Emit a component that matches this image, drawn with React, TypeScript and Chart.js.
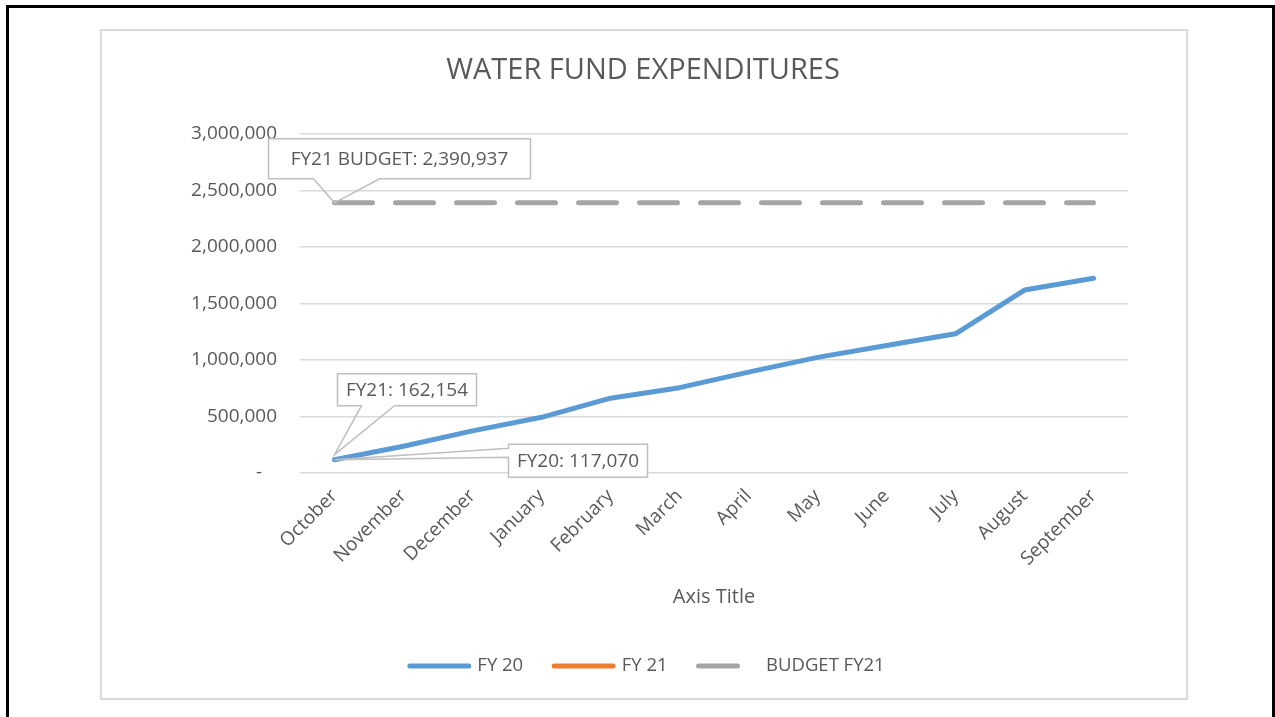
import { useEffect, useRef } from "react";
import { Chart, registerables } from "chart.js";

Chart.register(...registerables);

// ---------- data ----------
const months = [
  "October", "November", "December", "January", "February", "March",
  "April", "May", "June", "July", "August", "September",
];
const fy20Values = [
  117070, 237000, 373000, 493000, 662000, 755000,
  893000, 1023000, 1128000, 1232000, 1619000, 1723000,
];
const fy21Values = [
  162154, null, null, null, null, null,
  null, null, null, null, null, null,
];
const budgetFy21Values = [
  2390937, 2390937, 2390937, 2390937, 2390937, 2390937,
  2390937, 2390937, 2390937, 2390937, 2390937, 2390937,
];
const seriesNames = ["FY 20", "FY 21", "BUDGET FY21"];
const yMin = 0;
const yMax = 3000000;
const yStep = 500000;
const chartTitle = "WATER FUND EXPENDITURES";
const xAxisTitle = "Axis Title";

// ---------- styling ----------
const FONT = "'Open Sans', sans-serif";
const TEXT = "#595959";
const GRID = "#D9D9D9";
const BLUE = "#5B9BD5";
const ORANGE = "#ED7D31";
const GRAY = "#A5A5A5";

const CANVAS_W = 1084;
const CANVAS_H = 667;

// callout label layout (offsets from the data point)
const callouts = [
  { ds: 2, idx: 0, prefix: "FY21 BUDGET: ", cx: 65, cy: -44, w: 262, h: 40, side: "bottom", b1: 45, b2: 111 },
  { ds: 1, idx: 0, prefix: "FY21: ", cx: 72.5, cy: -65, w: 139, h: 32, side: "bottom", b1: 24, b2: 57 },
  { ds: 0, idx: 0, prefix: "FY20: ", cx: 243.5, cy: 1, w: 139, h: 33, side: "left", b1: 4, b2: 13 },
];

const fmt = (v: number) => Math.round(v).toLocaleString("en-US");

const decorPlugin = {
  id: "decor",
  afterDatasetsDraw(chart: any) {
    const ctx: CanvasRenderingContext2D = chart.ctx;
    ctx.save();
    for (const c of callouts) {
      const meta = chart.getDatasetMeta(c.ds);
      const el = meta.data[c.idx];
      const value = chart.data.datasets[c.ds].data[c.idx] as number;
      const ax = el.x;
      const ay = el.y;
      const left = ax + c.cx - c.w / 2;
      const top = ay + c.cy - c.h / 2;
      const right = left + c.w;
      const bottom = top + c.h;
      ctx.fillStyle = "#ffffff";
      ctx.fillRect(left, top, c.w, c.h);
      ctx.beginPath();
      if (c.side === "bottom") {
        ctx.moveTo(left + c.b1, bottom);
        ctx.lineTo(left, bottom);
        ctx.lineTo(left, top);
        ctx.lineTo(right, top);
        ctx.lineTo(right, bottom);
        ctx.lineTo(left + c.b2, bottom);
        ctx.lineTo(ax, ay);
        ctx.closePath();
      } else {
        ctx.moveTo(left, top + c.b1);
        ctx.lineTo(left, top);
        ctx.lineTo(right, top);
        ctx.lineTo(right, bottom);
        ctx.lineTo(left, bottom);
        ctx.lineTo(left, top + c.b2);
        ctx.lineTo(ax, ay);
        ctx.closePath();
      }
      ctx.strokeStyle = "#BFBFBF";
      ctx.lineWidth = 1.5;
      ctx.lineJoin = "miter";
      ctx.stroke();
      ctx.fillStyle = TEXT;
      ctx.font = `19px ${FONT}`;
      ctx.textAlign = "center";
      ctx.textBaseline = "middle";
      ctx.fillText(c.prefix + fmt(value), (left + right) / 2, (top + bottom) / 2 + 1);
    }
    ctx.restore();
  },
  afterDraw(chart: any) {
    const ctx: CanvasRenderingContext2D = chart.ctx;
    const area = chart.chartArea;
    ctx.save();
    // title
    ctx.fillStyle = TEXT;
    ctx.font = `29px ${FONT}`;
    ctx.textAlign = "center";
    ctx.textBaseline = "middle";
    ctx.fillText(chartTitle, chart.width / 2 - 1, 40);
    // axis title
    ctx.font = `20px ${FONT}`;
    ctx.fillText(xAxisTitle, (area.left + area.right) / 2, 566);
    // legend
    ctx.font = `18.5px ${FONT}`;
    const sample = 64;
    const gap = 6;
    const spacing = 28.5;
    const items = chart.data.datasets.map((d: any) => ({
      label: d.label,
      color: d.borderColor,
      dash: d.borderDash || [],
      w: ctx.measureText(d.label).width,
    }));
    let total = 0;
    items.forEach((it: any, i: number) => {
      total += sample + gap + it.w + (i < items.length - 1 ? spacing : 0);
    });
    let x = chart.width / 2 - total / 2 + 2;
    const ly = 635;
    items.forEach((it: any) => {
      ctx.beginPath();
      ctx.strokeStyle = it.color;
      ctx.lineWidth = 5;
      ctx.lineCap = "round";
      ctx.moveTo(x + 2.5, ly);
      ctx.lineTo(x + (it.dash.length ? 41.5 : sample - 2.5), ly);
      ctx.stroke();
      ctx.fillStyle = TEXT;
      ctx.textAlign = "left";
      ctx.textBaseline = "middle";
      const tx = x + sample + gap;
      ctx.fillText(it.label, tx, ly);
      x = tx + it.w + spacing;
    });
    ctx.restore();
  },
};

export default function App() {
  const ref = useRef<HTMLCanvasElement | null>(null);

  useEffect(() => {
    if (!ref.current) return;
    const chart = new Chart(ref.current, {
      type: "line",
      data: {
        labels: months,
        datasets: [
          {
            label: seriesNames[0],
            data: fy20Values,
            borderColor: BLUE,
            backgroundColor: BLUE,
            borderWidth: 5,
            pointRadius: 0,
            pointHoverRadius: 0,
            tension: 0,
            borderCapStyle: "round",
            borderJoinStyle: "round",
          },
          {
            label: seriesNames[1],
            data: fy21Values,
            borderColor: ORANGE,
            backgroundColor: ORANGE,
            borderWidth: 5,
            pointRadius: 0,
            pointHoverRadius: 0,
            tension: 0,
            borderCapStyle: "butt",
          },
          {
            label: seriesNames[2],
            data: budgetFy21Values,
            borderColor: GRAY,
            backgroundColor: GRAY,
            borderWidth: 5,
            borderDash: [38, 23],
            borderCapStyle: "round",
            pointRadius: 0,
            pointHoverRadius: 0,
            tension: 0,
          },
        ],
      } as any,
      options: {
        responsive: false,
        animation: false,
        events: [],
        layout: { padding: { left: 8, right: 58, top: 103, bottom: 105 } },
        plugins: {
          legend: { display: false },
          title: { display: false },
          tooltip: { enabled: false },
        },
        scales: {
          x: {
            type: "category",
            offset: true,
            grid: { display: false, drawTicks: false },
            border: { display: false },
            ticks: {
              autoSkip: false,
              maxRotation: 45,
              minRotation: 45,
              padding: 12,
              color: TEXT,
              font: { family: FONT, size: 19 },
            },
            afterFit: (scale: any) => {
              scale.height = 120;
            },
          },
          y: {
            min: yMin,
            max: yMax,
            grid: { color: GRID, lineWidth: 1.5, drawTicks: false },
            border: { display: false },
            ticks: {
              stepSize: yStep,
              padding: 23,
              color: TEXT,
              font: { family: FONT, size: 19 },
              callback: (v: any) => (Number(v) === 0 ? "-   " : fmt(Number(v))),
            },
            afterFit: (scale: any) => {
              scale.width = 190;
            },
          },
        },
      } as any,
      plugins: [decorPlugin],
    });
    return () => chart.destroy();
  }, []);

  return (
    <div
      style={{
        position: "fixed",
        left: 0,
        top: 0,
        width: 1275,
        height: 717,
        background: "#ffffff",
        overflow: "hidden",
      }}
    >
      <div
        style={{
          position: "absolute",
          left: 6,
          top: 5,
          width: 1269,
          height: 800,
          border: "3px solid #000000",
          boxSizing: "border-box",
        }}
      />
      <div
        style={{
          position: "absolute",
          left: 100,
          top: 29,
          width: 1088,
          height: 671,
          border: "2px solid #D9D9D9",
          boxSizing: "border-box",
          background: "#ffffff",
        }}
      />
      <canvas
        ref={ref}
        width={CANVAS_W}
        height={CANVAS_H}
        style={{ position: "absolute", left: 102, top: 31, display: "block" }}
      />
    </div>
  );
}
